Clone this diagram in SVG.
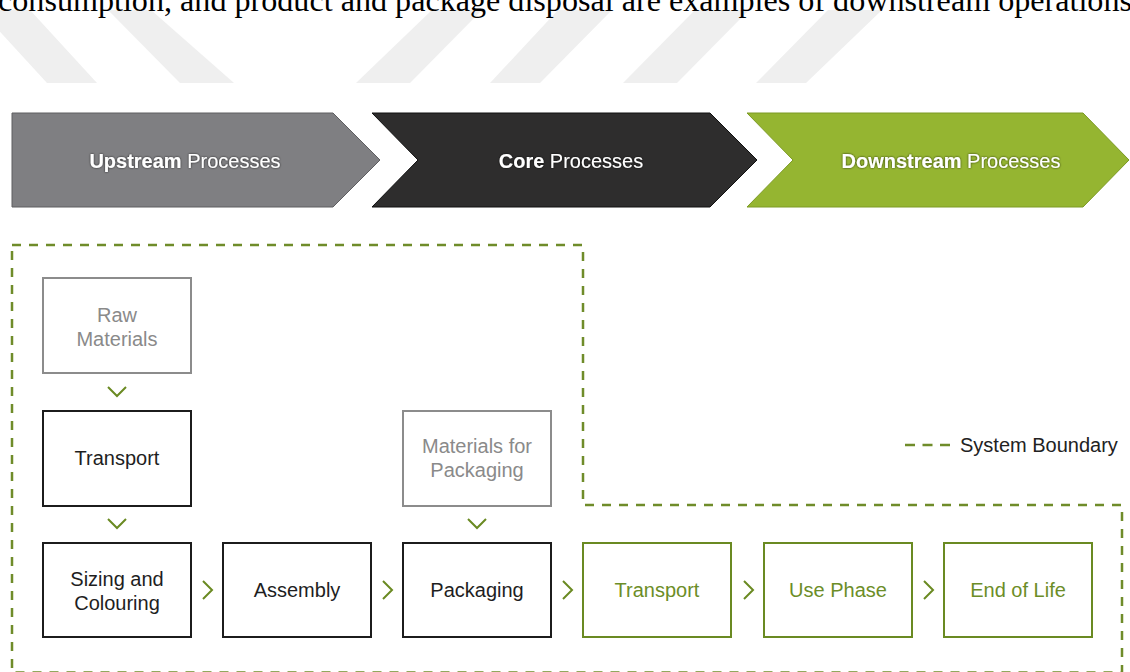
<svg xmlns="http://www.w3.org/2000/svg" width="1130" height="672" viewBox="0 0 1130 672">
<defs>
<style>
.box{fill:#ffffff;stroke-width:2}
.blk{stroke:#1c1c1c}
.gry{stroke:#8c8c8c}
.grn{stroke:#6a8a22}
.t{font-family:"Liberation Sans",Arial,sans-serif;font-size:20px;text-anchor:middle}
.tb{fill:#1e1e1e}
.tg{fill:#8a8a8a}
.tn{fill:#6c8d27}
.ban{font-family:"Liberation Sans",Arial,sans-serif;font-size:20px;text-anchor:middle;fill:#ffffff}
.chev{fill:none;stroke:#6a8a22;stroke-width:2}
.bound{fill:none;stroke:#6f8c2a;stroke-width:2.5;stroke-dasharray:9 8}
.stripe{fill:#efefef}
</style>
<filter id="halo" x="-10%" y="-40%" width="120%" height="180%">
<feGaussianBlur in="SourceAlpha" stdDeviation="1.3" result="b"/>
<feFlood flood-color="#000000" flood-opacity="0.75"/>
<feComposite in2="b" operator="in" result="s"/>
<feMerge><feMergeNode in="s"/><feMergeNode in="SourceGraphic"/></feMerge>
</filter>
</defs>
<rect width="1130" height="672" fill="#ffffff"/>
<g id="watermark">
<polygon class="stripe" points="-20,10 30,10 97,83 47,83"/>
<polygon class="stripe" points="108,10 151,10 234,83 180,83"/>
<polygon class="stripe" points="432,10 482,10 410,83 356,83"/>
<polygon class="stripe" points="558,10 612,10 540,83 490,83"/>
<polygon class="stripe" points="695,10 749,10 677,83 623,83"/>
<polygon class="stripe" points="828,10 882,10 806,83 756,83"/>
</g>
<text x="-2" y="11" font-family="'Liberation Serif','Times New Roman',serif" font-size="32" fill="#000000" textLength="1134" lengthAdjust="spacingAndGlyphs">consumption, and product and package disposal are examples of downstream operations</text>
<g id="banner-upstream">
<polygon points="12,113 333,113 380,160 333,207 12,207" fill="#7f7f82" stroke="#5e5e60" stroke-width="1"/>
<text class="ban" x="185" y="168" filter="url(#halo)"><tspan font-weight="bold">Upstream</tspan> Processes</text>
</g>
<g id="banner-core">
<polygon points="372,113 710,113 757,160 710,207 372,207 418,160" fill="#2e2d2d" stroke="#111111" stroke-width="1"/>
<text class="ban" x="571" y="168" filter="url(#halo)"><tspan font-weight="bold">Core</tspan> Processes</text>
</g>
<g id="banner-downstream">
<polygon points="747,113 1083,113 1129,160 1083,207 747,207 793,160" fill="#95b531" stroke="#7c9a24" stroke-width="1"/>
<text class="ban" x="951" y="168" filter="url(#halo)"><tspan font-weight="bold">Downstream</tspan> Processes</text>
</g>
<g id="system-boundary">
<path class="bound" d="M12,245 H583 V505 H1122 V672.5 H12 Z"/>
</g>
<g id="legend">
<path d="M905,445 H950" fill="none" stroke="#6f8c2a" stroke-width="2.5" stroke-dasharray="10 7.5"/>
<text x="960" y="452" font-family="'Liberation Sans',Arial,sans-serif" font-size="20" fill="#222222">System Boundary</text>
</g>
<g id="raw-materials">
<rect class="box gry" x="43" y="278" width="148" height="95"/>
<text class="t tg" x="117" y="322">Raw</text>
<text class="t tg" x="117" y="346">Materials</text>
</g>
<g id="transport-in">
<rect class="box blk" x="43" y="411" width="148" height="95"/>
<text class="t tb" x="117" y="465">Transport</text>
</g>
<g id="materials-packaging">
<rect class="box gry" x="403" y="411" width="148" height="95"/>
<text class="t tg" x="477" y="453">Materials for</text>
<text class="t tg" x="477" y="477">Packaging</text>
</g>
<g id="sizing-colouring">
<rect class="box blk" x="43" y="543" width="148" height="94"/>
<text class="t tb" x="117" y="586">Sizing and</text>
<text class="t tb" x="117" y="610">Colouring</text>
</g>
<g id="assembly">
<rect class="box blk" x="223" y="543" width="148" height="94"/>
<text class="t tb" x="297" y="597">Assembly</text>
</g>
<g id="packaging">
<rect class="box blk" x="403" y="543" width="148" height="94"/>
<text class="t tb" x="477" y="597">Packaging</text>
</g>
<g id="transport-out">
<rect class="box grn" x="583" y="543" width="148" height="94"/>
<text class="t tn" x="657" y="597">Transport</text>
</g>
<g id="use-phase">
<rect class="box grn" x="764" y="543" width="148" height="94"/>
<text class="t tn" x="838" y="597">Use Phase</text>
</g>
<g id="end-of-life">
<rect class="box grn" x="944" y="543" width="148" height="94"/>
<text class="t tn" x="1018" y="597">End of Life</text>
</g>
<g id="connectors">
<polyline class="chev" points="108,387 117,396 126,387"/>
<polyline class="chev" points="108,519 117,528 126,519"/>
<polyline class="chev" points="468,519 477,528 486,519"/>
<polyline class="chev" points="203,581 212,590 203,599"/>
<polyline class="chev" points="383,581 392,590 383,599"/>
<polyline class="chev" points="563,581 572,590 563,599"/>
<polyline class="chev" points="744,581 753,590 744,599"/>
<polyline class="chev" points="924,581 933,590 924,599"/>
</g>
</svg>
